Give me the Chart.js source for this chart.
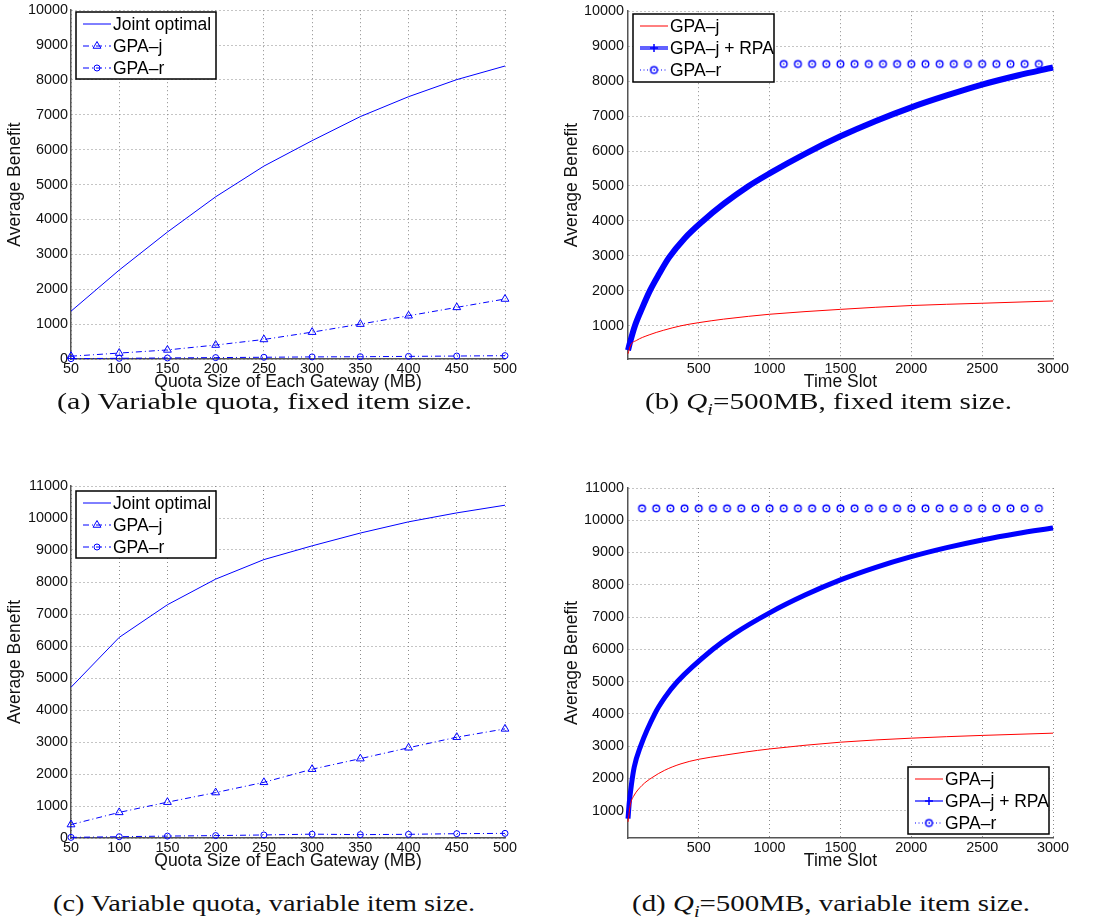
<!DOCTYPE html>
<html>
<head>
<meta charset="utf-8">
<title>Average Benefit</title>
<script src="https://cdn.jsdelivr.net/npm/chart.js@4.4.1/dist/chart.umd.min.js"></script>
<style>
  html, body { margin: 0; padding: 0; background: #fff; }
  #fig { position: relative; width: 1097px; height: 924px; overflow: hidden; }
  #fig canvas { position: absolute; }
  .cap { position: absolute; font-family: "Liberation Serif", "Times New Roman", serif; font-size: 24px; line-height: 26px; color: #111; white-space: nowrap; transform-origin: 0 50%; }
  .cap sub { font-size: 0.7em; line-height: 0; }
</style>
</head>
<body>
<div id="fig">
  <canvas id="chartA" width="548" height="400" style="left:0px;top:0px"></canvas>
  <canvas id="chartB" width="547" height="400" style="left:550px;top:0px"></canvas>
  <canvas id="chartC" width="548" height="410" style="left:0px;top:470px"></canvas>
  <canvas id="chartD" width="547" height="410" style="left:550px;top:470px"></canvas>
  <div class="cap" data-left="57" data-w="415" style="top:388px">(a) Variable quota, fixed item size.</div>
  <div class="cap" data-left="645" data-w="367" style="top:388px">(b) <i>Q<sub>i</sub></i>=500MB, fixed item size.</div>
  <div class="cap" data-left="53" data-w="422" style="top:890px">(c) Variable quota, variable item size.</div>
  <div class="cap" data-left="632" data-w="398" style="top:890px">(d) <i>Q<sub>i</sub></i>=500MB, variable item size.</div>
</div>
<script>
// quota sweep, panels (a) and (c)
var quotaMB = [50, 100, 150, 200, 250, 300, 350, 400, 450, 500];
var jointFixed = [1370, 2550, 3640, 4650, 5530, 6260, 6950, 7520, 8010, 8400];
var gpajFixed = [80, 170, 260, 400, 560, 770, 1000, 1240, 1480, 1720];
var gparFixed = [10, 20, 30, 40, 50, 60, 65, 75, 85, 95];
var jointVar = [4710, 6270, 7290, 8090, 8700, 9130, 9530, 9880, 10160, 10400];
var gpajVar = [420, 800, 1120, 1420, 1740, 2150, 2480, 2820, 3150, 3410];
var gparVar = [20, 40, 60, 75, 95, 120, 105, 115, 135, 145];

// time slot runs, panel (b): Qi = 500MB, fixed item size
var slotsGpajB = [1, 20, 60, 150, 250, 375, 500, 675, 850, 1000, 1500, 2000, 2500, 3000];
var gpajB = [200, 450, 580, 740, 870, 1000, 1090, 1190, 1270, 1330, 1470, 1580, 1645, 1710];
var slotsRpaB = [1, 15, 50, 100, 155, 220, 290, 400, 530, 680, 845, 1000, 1250, 1500, 1750, 2000, 2250, 2500, 2750, 3000];
var rpaB = [300, 520, 1000, 1500, 2000, 2480, 2950, 3500, 4000, 4500, 4980, 5360, 5920, 6420, 6860, 7250, 7590, 7900, 8160, 8390];
var slotsGparB = [100, 200, 300, 400, 500, 600, 700, 800, 900, 1000, 1100, 1200, 1300, 1400, 1500,
                  1600, 1700, 1800, 1900, 2000, 2100, 2200, 2300, 2400, 2500, 2600, 2700, 2800, 2900];
var gparB = [8490, 8490, 8490, 8490, 8490, 8490, 8490, 8490, 8490, 8490, 8490, 8490, 8490, 8490, 8490,
             8490, 8490, 8490, 8490, 8490, 8490, 8490, 8490, 8490, 8490, 8490, 8490, 8490, 8490];

// time slot runs, panel (d): Qi = 500MB, variable item size
var slotsGpajD = [1, 18, 40, 100, 170, 260, 375, 500, 670, 830, 1000, 1500, 2000, 2500, 3000];
var gpajD = [650, 1200, 1440, 1780, 2020, 2250, 2450, 2590, 2710, 2815, 2910, 3120, 3245, 3330, 3400];
var slotsRpaD = [1, 10, 25, 45, 90, 190, 260, 350, 600, 750, 1000, 1250, 1500, 1750, 2000, 2250, 2500, 2750, 3000];
var rpaD = [750, 1250, 1800, 2350, 3000, 4000, 4500, 5000, 6000, 6480, 7130, 7680, 8150, 8540, 8870, 9150, 9390, 9590, 9760];
var slotsGparD = slotsGparB;
var gparD = [10370, 10370, 10370, 10370, 10370, 10370, 10370, 10370, 10370, 10370, 10370, 10370, 10370, 10370, 10370,
             10370, 10370, 10370, 10370, 10370, 10370, 10370, 10370, 10370, 10370, 10370, 10370, 10370, 10370];

// axis ticks
var quotaTicks = [50, 100, 150, 200, 250, 300, 350, 400, 450, 500];
var slotTicks = [500, 1000, 1500, 2000, 2500, 3000];
var benefitTicksA = [0, 1000, 2000, 3000, 4000, 5000, 6000, 7000, 8000, 9000, 10000];
var benefitTicksB = [1000, 2000, 3000, 4000, 5000, 6000, 7000, 8000, 9000, 10000];
var benefitTicksC = [0, 1000, 2000, 3000, 4000, 5000, 6000, 7000, 8000, 9000, 10000, 11000];
var benefitTicksD = [1000, 2000, 3000, 4000, 5000, 6000, 7000, 8000, 9000, 10000, 11000];

var BLUE = '#0000ff', RED = '#ff0000';
var SANS = "'Liberation Sans', Arial, Helvetica, sans-serif";

function pts(xs, ys) {
    return xs.map(function (x, i) { return { x: x, y: ys[i] }; });
}

// open circle with a dot in the middle, used for GPA-r on the time plots
function ringDot(color) {
    var c = document.createElement('canvas');
    c.width = c.height = 11;
    var g = c.getContext('2d');
    g.strokeStyle = color;
    g.lineWidth = 1.4;
    g.beginPath(); g.arc(5.5, 5.5, 3.3, 0, Math.PI * 2); g.stroke();
    g.fillStyle = color;
    g.beginPath(); g.arc(5.5, 5.5, 0.8, 0, Math.PI * 2); g.fill();
    return c;
}
var RING = ringDot(BLUE);

function drawMarker(ctx, style, r, x, y, color) {
    ctx.save();
    ctx.setLineDash([]);
    ctx.strokeStyle = color;
    ctx.lineWidth = 1;
    if (style instanceof HTMLCanvasElement) {
        ctx.drawImage(style, x - style.width / 2, y - style.height / 2);
    } else if (style === 'triangle') {
        ctx.beginPath();
        for (var k = 0; k < 3; k++) {
            var a = k * 2 * Math.PI / 3;
            ctx[k ? 'lineTo' : 'moveTo'](x + Math.sin(a) * r, y - Math.cos(a) * r);
        }
        ctx.closePath(); ctx.stroke();
    } else if (style === 'circle') {
        ctx.beginPath(); ctx.arc(x, y, r, 0, Math.PI * 2); ctx.stroke();
    } else if (style === 'cross') {
        ctx.lineWidth = 1.5;
        ctx.beginPath();
        ctx.moveTo(x - r, y); ctx.lineTo(x + r, y);
        ctx.moveTo(x, y - r); ctx.lineTo(x, y + r);
        ctx.stroke();
    }
    ctx.restore();
}

// boxed legend drawn over the data, like the plotting tool does it
var boxLegend = {
    id: 'boxLegend',
    afterDatasetsDraw: function (chart, args, o) {
        var ctx = chart.ctx;
        ctx.save();
        ctx.fillStyle = '#fff';
        ctx.fillRect(o.x, o.y, o.w, o.h);
        chart.data.datasets.forEach(function (ds, i) {
            var y = o.y + 12 + 22 * i;
            var x0 = o.x + 7, x1 = o.x + 35;
            ctx.save();
            ctx.strokeStyle = ds.legendColor || ds.borderColor;
            ctx.lineWidth = ds.legendWidth || ds.borderWidth;
            ctx.setLineDash(ds.legendDash || ds.borderDash || []);
            ctx.beginPath(); ctx.moveTo(x0, y); ctx.lineTo(x1, y); ctx.stroke();
            ctx.restore();
            if (ds.legendMarker) drawMarker(ctx, ds.legendMarker, ds.legendMarkerSize || 3, (x0 + x1) / 2, y, BLUE);
            ctx.fillStyle = '#000';
            ctx.font = '17.5px ' + SANS;
            ctx.textBaseline = 'middle';
            ctx.fillText(ds.label, o.x + 37, y + 1);
        });
        ctx.strokeStyle = '#000';
        ctx.lineWidth = 1.5;
        ctx.strokeRect(o.x, o.y, o.w, o.h);
        ctx.restore();
    }
};

function makeChart(id, p) {
    var cv = document.getElementById(id);
    var W = cv.width, H = cv.height;
    var tickFont = { family: SANS, size: 14.4, lineHeight: 1 };
    var titleFont = { family: SANS, size: 17.5, lineHeight: 1 };
    var gridOpts = { color: '#8a8a8a', lineWidth: 1, drawTicks: false };
    var borderOpts = { color: '#555', width: 1.5, dash: [1, 3] };
    // x title sits 23px under the axis line
    var xTitlePad = H - (p.area.bottom + 23) - titleFont.size / 2;
    return new Chart(cv, {
        type: 'line',
        data: { datasets: p.datasets },
        options: {
            responsive: false,
            animation: false,
            devicePixelRatio: 1,
            events: [],
            layout: { padding: { left: 0, top: p.area.top, right: W - p.area.right, bottom: 0 } },
            elements: { point: { radius: 0 }, line: { tension: 0 } },
            plugins: { legend: { display: false }, tooltip: { enabled: false }, boxLegend: p.legend },
            scales: {
                x: {
                    type: 'linear', min: p.xMin, max: p.xMax,
                    afterBuildTicks: function (s) { s.ticks = p.xTicks.map(function (v) { return { value: v }; }); },
                    afterFit: function (s) { s.height = H - p.area.bottom; },
                    grid: gridOpts, border: borderOpts,
                    ticks: { font: tickFont, color: '#111', padding: 3, maxRotation: 0, autoSkip: false,
                             callback: function (v) { return String(v); } },
                    title: { display: true, text: p.xTitle, font: titleFont, color: '#111',
                             padding: { top: 0, bottom: xTitlePad } }
                },
                y: {
                    type: 'linear', min: p.yMin, max: p.yMax,
                    afterBuildTicks: function (s) { s.ticks = p.yTicks.map(function (v) { return { value: v }; }); },
                    afterFit: function (s) { s.width = p.area.left; },
                    grid: gridOpts, border: borderOpts,
                    ticks: { font: tickFont, color: '#111', padding: p.yTickPad, autoSkip: false,
                             callback: function (v) { return String(v); } },
                    title: { display: true, text: 'Average Benefit', font: titleFont, color: '#111',
                             padding: { top: p.yTitlePad, bottom: 0 } }
                }
            }
        },
        plugins: [boxLegend]
    });
}

function quotaSets(joint, gpaj, gpar) {
    return [
        { label: 'Joint optimal', data: pts(quotaMB, joint), borderColor: BLUE, borderWidth: 1, clip: 8 },
        { label: 'GPA–j', data: pts(quotaMB, gpaj), borderColor: BLUE, borderWidth: 1, borderDash: [6, 3, 1, 3],
          pointStyle: 'triangle', pointRadius: 4.5, pointBorderWidth: 1, pointBorderColor: BLUE,
          pointBackgroundColor: 'rgba(0,0,0,0)', clip: 8, legendMarker: 'triangle', legendMarkerSize: 4.5 },
        { label: 'GPA–r', data: pts(quotaMB, gpar), borderColor: BLUE, borderWidth: 1, borderDash: [6, 3, 1, 3],
          pointStyle: 'circle', pointRadius: 3, pointBorderWidth: 1, pointBorderColor: BLUE,
          pointBackgroundColor: 'rgba(0,0,0,0)', clip: 8, legendMarker: 'circle', legendMarkerSize: 3 }
    ];
}

function slotSets(sj, gj, sr, gr, sg, gg, bandWidth, legendBand) {
    return [
        { label: 'GPA–j', data: pts(sj, gj), borderColor: RED, borderWidth: 1, cubicInterpolationMode: 'monotone', clip: 8 },
        { label: 'GPA–j + RPA', data: pts(sr, gr), borderColor: BLUE, borderWidth: bandWidth,
          borderJoinStyle: 'round', cubicInterpolationMode: 'monotone', clip: 8,
          legendColor: legendBand ? '#6262ff' : BLUE, legendWidth: legendBand ? 4 : 1.2,
          legendMarker: 'cross', legendMarkerSize: 4 },
        { label: 'GPA–r', data: pts(sg, gg), borderColor: BLUE, borderWidth: 1, showLine: false,
          pointStyle: RING, pointRadius: 4, clip: 8,
          legendDash: [1, 2.5], legendMarker: RING }
    ];
}

makeChart('chartA', {
    area: { left: 71, top: 7, right: 505, bottom: 359 },
    xMin: 50, xMax: 500, xTicks: quotaTicks, xTitle: 'Quota Size of Each Gateway (MB)',
    yMin: 0, yMax: 10000, yTicks: benefitTicksA, yTickPad: 3, yTitlePad: 6,
    datasets: quotaSets(jointFixed, gpajFixed, gparFixed),
    legend: { x: 76, y: 12, w: 140, h: 67 }
});

makeChart('chartB', {
    area: { left: 78, top: 9, right: 503, bottom: 359 },
    xMin: 1, xMax: 3000, xTicks: slotTicks, xTitle: 'Time Slot',
    yMin: 50, yMax: 10000, yTicks: benefitTicksB, yTickPad: 4, yTitlePad: 13,
    datasets: slotSets(slotsGpajB, gpajB, slotsRpaB, rpaB, slotsGparB, gparB, 6, true),
    legend: { x: 83, y: 14, w: 141, h: 68 }
});

makeChart('chartC', {
    area: { left: 71, top: 16, right: 505, bottom: 368 },
    xMin: 50, xMax: 500, xTicks: quotaTicks, xTitle: 'Quota Size of Each Gateway (MB)',
    yMin: 0, yMax: 11000, yTicks: benefitTicksC, yTickPad: 3, yTitlePad: 6,
    datasets: quotaSets(jointVar, gpajVar, gparVar),
    legend: { x: 76, y: 21, w: 140, h: 67 }
});

makeChart('chartD', {
    area: { left: 78, top: 18, right: 503, bottom: 368 },
    xMin: 1, xMax: 3000, xTicks: slotTicks, xTitle: 'Time Slot',
    yMin: 150, yMax: 11000, yTicks: benefitTicksD, yTickPad: 4, yTitlePad: 13,
    datasets: slotSets(slotsGpajD, gpajD, slotsRpaD, rpaD, slotsGparD, gparD, 5, false),
    legend: { x: 358, y: 297, w: 141, h: 67 }
});

// stretch each caption to the width of its column
document.querySelectorAll('.cap').forEach(function (el) {
    var natural = el.getBoundingClientRect().width;
    el.style.left = el.dataset.left + 'px';
    el.style.transform = 'scaleX(' + (Number(el.dataset.w) / natural) + ')';
});
</script>
</body>
</html>
